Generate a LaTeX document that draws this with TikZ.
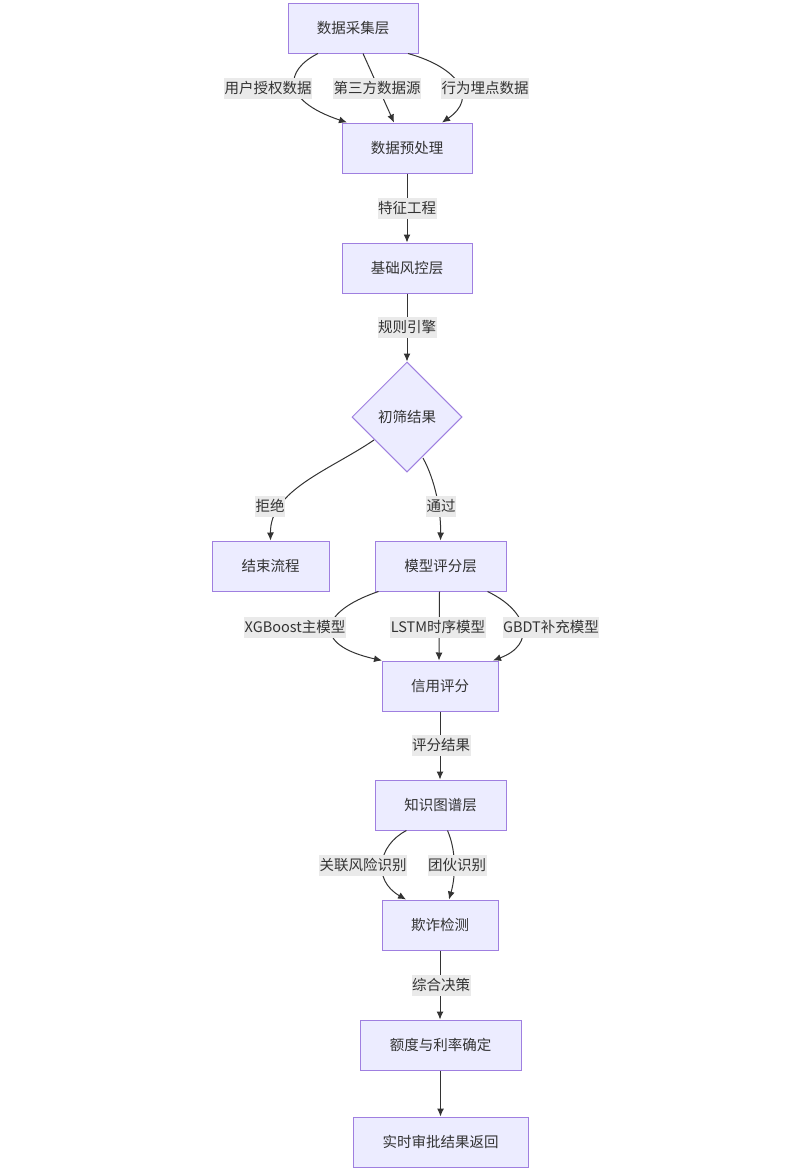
\documentclass[tikz,border=0pt]{standalone}
\usepackage{fontspec}
\setmainfont{Noto Sans CJK SC}
\usetikzlibrary{shapes.geometric,arrows.meta}
\definecolor{nodefill}{HTML}{ECECFF}
\definecolor{nodeborder}{HTML}{9F7FE0}
\definecolor{edgecol}{HTML}{333333}
\definecolor{textcol}{HTML}{333333}
\definecolor{lblfill}{HTML}{EAEAEA}
\tikzset{
  box/.style={draw=nodeborder, fill=nodefill, line width=1pt, minimum height=50pt, inner sep=0pt, text=textcol, font=\fontsize{14.5pt}{17pt}\selectfont},
  decision/.style={diamond, draw=nodeborder, fill=nodefill, line width=1pt, minimum width=110pt, minimum height=110pt, inner sep=0pt, text=textcol, font=\fontsize{14.5pt}{17pt}\selectfont},
  lbl/.style={fill=lblfill, inner xsep=0.5pt, inner ysep=0pt, minimum height=21pt, text=textcol, font=\fontsize{14.5pt}{17pt}\selectfont},
  edge/.style={draw=edgecol, line width=1pt, -{Latex[length=8pt,width=7pt]}}
}
\begin{document}
\begin{tikzpicture}[x=1pt,y=-1pt]
\useasboundingbox[fill=white] (0,0) rectangle (806,1175);
% nodes
\node[box, minimum width=130pt] (A) at (353,28) {数据采集层};
\node[box, minimum width=130pt] (B) at (407,148) {数据预处理};
\node[box, minimum width=130pt] (C) at (407,268) {基础风控层};
\node[decision] (D) at (407,417) {初筛结果};
\node[box, minimum width=117pt] (E) at (270.5,566) {结束流程};
\node[box, minimum width=131pt] (F) at (440.5,566) {模型评分层};
\node[box, minimum width=116pt] (G) at (440,686) {信用评分};
\node[box, minimum width=131pt] (H) at (440.5,805) {知识图谱层};
\node[box, minimum width=116pt] (I) at (440,925) {欺诈检测};
\node[box, minimum width=161pt] (J) at (440.5,1045) {额度与利率确定};
\node[box, minimum width=175pt] (K) at (440.5,1142) {实时审批结果返回};
% edges
\draw[edge] ([xshift=-35pt]A.south) .. controls (285,70) and (280,100) .. ([xshift=-60pt]B.north);
\draw[edge] ([xshift=10pt]A.south) -- ([xshift=-13pt]B.north);
\draw[edge] ([xshift=55pt]A.south) .. controls (460,68) and (478,98) .. ([xshift=35pt]B.north);
\draw[edge] (B.south) -- (C.north);
\draw[edge] (C.south) -- (D.north);
\coordinate (dl) at (374,440);
\coordinate (dr) at (423,458);
\draw[edge] (dl) .. controls (330,470) and (270,490) .. (E.north);
\draw[edge] (dr) .. controls (435,480) and (441,510) .. (F.north);
\draw[edge] ([xshift=-62pt]F.south) .. controls (318,612) and (312,645) .. ([xshift=-58pt]G.north);
\draw[edge] ([xshift=-1pt]F.south) -- ([xshift=-1pt]G.north);
\draw[edge] ([xshift=47pt]F.south) .. controls (530,612) and (535,645) .. ([xshift=53pt]G.north);
\draw[edge] (G.south) -- (G.south |- H.north);
\draw[edge] ([xshift=-34pt]H.south) .. controls (378,845) and (372,880) .. ([xshift=-34pt]I.north);
\draw[edge] ([xshift=7pt]H.south) .. controls (456,850) and (456,875) .. ([xshift=9pt]I.north);
\draw[edge] (I.south) -- (I.south |- J.north);
\draw[edge] (J.south) -- (K.north);
% labels
\node[lbl] (l1) at (268,88) {用户授权数据};
\node[lbl] (l2) at (377,88) {第三方数据源};
\node[lbl] (l3) at (485,88) {行为埋点数据};
\node[lbl] (l4) at (407,208) {特征工程};
\node[lbl] (l5) at (407,327) {规则引擎};
\node[lbl] (l6) at (270,506) {拒绝};
\node[lbl] (l7) at (441,506) {通过};
\node[lbl] (l8) at (295,627) {XGBoost主模型};
\node[lbl] (l9) at (438,627) {LSTM时序模型};
\node[lbl] (l10) at (551,627) {GBDT补充模型};
\node[lbl] (l11) at (441,745) {评分结果};
\node[lbl] (l12) at (363,865) {关联风险识别};
\node[lbl] (l13) at (457,865) {团伙识别};
\node[lbl] (l14) at (441,985) {综合决策};
\end{tikzpicture}
\end{document}
